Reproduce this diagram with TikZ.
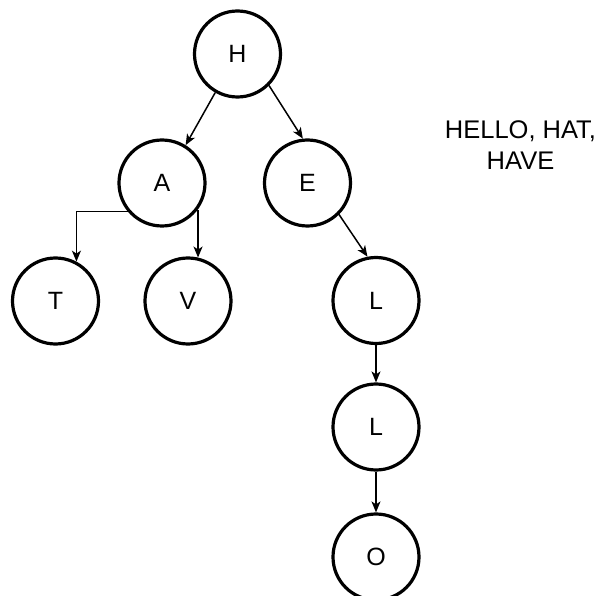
\documentclass[tikz,border=0pt]{standalone}
\usepackage{fontspec}
\setmainfont{Liberation Sans}
\usetikzlibrary{arrows.meta}
\begin{document}
\begin{tikzpicture}[x=1pt,y=-1pt,
  letter/.style={circle,draw=black,line width=3.2pt,minimum size=86pt,inner sep=0pt,
    font=\fontsize{25}{29}\selectfont},
  link/.style={line width=1.5pt,-{Stealth[length=11pt,width=9pt,inset=3pt]}},
  note/.style={align=center,inner sep=0pt,font=\fontsize{25.5}{31.5}\selectfont}]
\useasboundingbox (0,0) rectangle (598,596);
% trie nodes
\node[letter] (h)  at (237.5,54)  {H};
\node[letter] (a)  at (162,183)   {A};
\node[letter] (e)  at (307.5,183) {E};
\node[letter] (t)  at (55.5,301)  {T};
\node[letter] (v)  at (188,301)   {V};
\node[letter] (l1) at (376,300.5) {L};
\node[letter] (l2) at (376,427)   {L};
\node[letter] (o)  at (376,557)   {O};
% stored words
\node[note] (words) at (520.5,145) {HELLO, HAT,\\HAVE};
% edges
\draw[link] (h.240) -- (a.58);
\draw[link] (h.-45) -- (e.96);
\draw[link] (a.220) -| (t.62);
\draw[link] (a.-38) -| (v.77);
\draw[link] (e.-45) -- (l1.101);
\draw[link] (l1.south) -- (l2.north);
\draw[link] (l2.south) -- (o.north);
\end{tikzpicture}
\end{document}
